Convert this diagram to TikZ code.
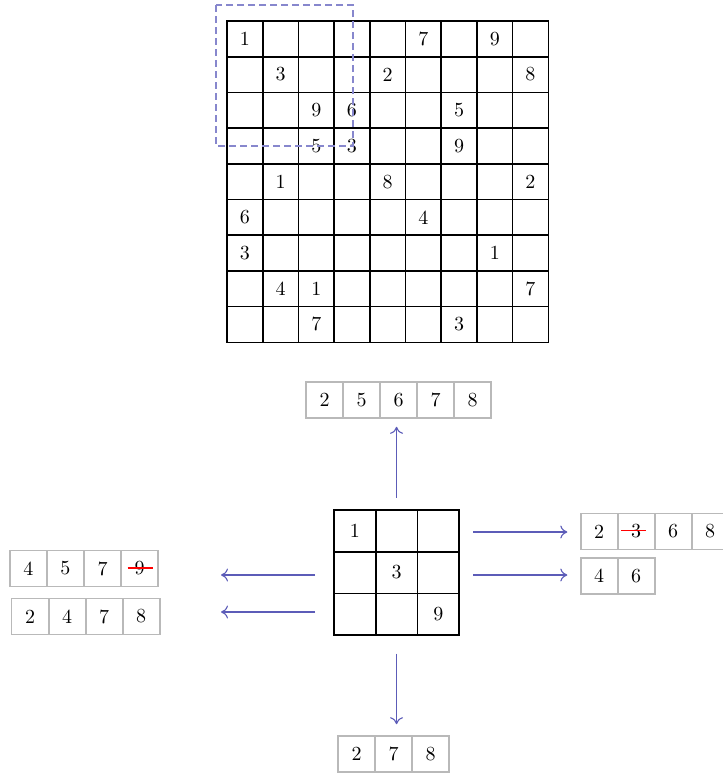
\documentclass[tikz,border=0pt]{standalone}
\usetikzlibrary{arrows.meta,positioning}
\definecolor{arrowblue}{RGB}{92,92,184}
\definecolor{dashblue}{RGB}{135,135,205}
\definecolor{candgray}{RGB}{185,185,185}

\begin{document}
\begin{tikzpicture}[x=0.5pt,y=-0.5pt,
  cell/.style={minimum width=17.85pt, minimum height=17.85pt, inner sep=0pt},
  bcell/.style={minimum width=20.85pt, minimum height=20.85pt, inner sep=0pt},
  gridline/.style={draw=black, line width=0.8pt, line cap=rect},
  cand/.style={draw=candgray, line width=0.8pt, minimum width=18.5pt, minimum height=18pt, inner sep=0pt},
  digit/.style={inner sep=0pt},
  strike/.style={draw=red, line width=0.7pt},
  arr/.style={-{To[length=3.5pt,width=6.5pt]}, draw=arrowblue, line width=0.55pt}
]
\useasboundingbox (0,0) rectangle (723,773);

% the sudoku
\foreach \r in {0,...,8}
  \foreach \c in {0,...,8}
    \node[cell] (g\r\c) at (244.85+35.7*\c, 38.85+35.7*\r) {};
\foreach \i in {0,...,9} {
  \draw[gridline] (227+35.7*\i,21) -- (227+35.7*\i,342.3);
  \draw[gridline] (227,21+35.7*\i) -- (548.3,21+35.7*\i);
}
\foreach \r/\c/\d in {0/0/1, 0/5/7, 0/7/9,
                      1/1/3, 1/4/2, 1/8/8,
                      2/2/9, 2/3/6, 2/6/5,
                      3/2/5, 3/3/3, 3/6/9,
                      4/1/1, 4/4/8, 4/8/2,
                      5/0/6, 5/5/4,
                      6/0/3, 6/7/1,
                      7/1/4, 7/2/1, 7/8/7,
                      8/2/7, 8/6/3}
  \node[digit] (d\r\c) at (g\r\c) {\d};

% highlighted block
\draw[draw=dashblue, line width=0.6pt, dash pattern=on 3.5pt off 2pt] (216,5) rectangle (353,146);

% the block
\foreach \r in {0,1,2}
  \foreach \c in {0,1,2}
    \node[bcell] (b\r\c) at (354.85+41.7*\c, 530.85+41.7*\r) {};
\foreach \i in {0,...,3} {
  \draw[gridline] (334+41.7*\i,510) -- (334+41.7*\i,635.1);
  \draw[gridline] (334,510+41.7*\i) -- (459.1,510+41.7*\i);
}
\node[digit] (e00) at (b00) {1};
\node[digit] (e11) at (b11) {3};
\node[digit] (e22) at (b22) {9};

% candidates
\foreach \d [count=\i from 0] in {2,5,6,7,8}
  \node[cand] (up\i) at (324.5+37*\i, 400) {\d};
\foreach \d [count=\i from 0] in {4,5,7,9}
  \node[cand] (la\i) at (28.5+37*\i, 568.5) {\d};
\foreach \d [count=\i from 0] in {2,4,7,8}
  \node[cand] (lb\i) at (30.2+37*\i, 616.5) {\d};
\foreach \d [count=\i from 0] in {2,3,6,8}
  \node[cand] (ra\i) at (599.2+37*\i, 531.5) {\d};
\foreach \d [count=\i from 0] in {4,6}
  \node[cand] (rb\i) at (599.2+37*\i, 576) {\d};
\foreach \d [count=\i from 0] in {2,7,8}
  \node[cand] (dn\i) at (356.5+37*\i, 754) {\d};

\draw[strike] ([xshift=-5.9pt,yshift=0.2pt]la3.center) -- ([xshift=6.9pt,yshift=0.2pt]la3.center);
\draw[strike] ([xshift=-7.7pt,yshift=0.5pt]ra1.center) -- ([xshift=4.9pt,yshift=0.5pt]ra1.center);

% arrows
\coordinate (lt1) at (315,575);
\coordinate (lh1) at (221,575);
\coordinate (lt2) at (315,612);
\coordinate (lh2) at (221,612);
\coordinate (rt1) at (473,532);
\coordinate (rt2) at (473,575);

\draw[arr, shorten <=6pt, shorten >=4pt] (b01.north) -- (b01.north |- up2.south);
\draw[arr, shorten <=9pt, shorten >=5.5pt] (b21.south) -- (b21.south |- dn1.north);
\draw[arr] (lt1) -- (lh1);
\draw[arr] (lt2) -- (lh2);
\draw[arr, shorten >=6.3pt] (rt1) -- (rt1 -| ra0.west);
\draw[arr, shorten >=6.3pt] (rt2) -- (rt2 -| rb0.west);
\end{tikzpicture}
\end{document}
